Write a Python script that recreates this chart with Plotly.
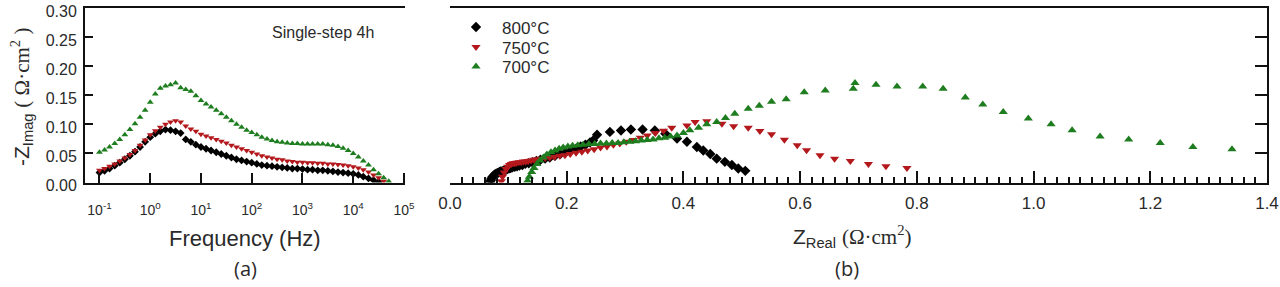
import plotly.graph_objects as go

# ---------------- data ----------------
FREQ = [0.1, 0.126, 0.158, 0.2, 0.251, 0.316, 0.398, 0.501, 0.631, 0.794,
        1, 1.26, 1.58, 2, 2.51, 3.16, 3.98, 5.01, 6.31, 7.94,
        10, 12.6, 15.8, 20, 25.1, 31.6, 39.8, 50.1, 63.1, 79.4,
        100, 126, 158, 200, 251, 316, 398, 501, 631, 794,
        1000, 1260, 1580, 2000, 2510, 3160, 3980, 5010, 6310, 7940,
        10000, 12600, 15800, 20000, 25100, 31600, 39800, 50100]

# Bode: -Z_imag vs frequency
ZI_BODE_800 = [0.017, 0.020, 0.024, 0.029, 0.034, 0.040, 0.046, 0.053, 0.061, 0.070,
               0.078, 0.084, 0.088, 0.091, 0.090, 0.088, 0.085, 0.074, 0.070, 0.065,
               0.061, 0.058, 0.055, 0.052, 0.049, 0.046, 0.043, 0.040, 0.038, 0.036,
               0.034, 0.032, 0.030, 0.029, 0.028, 0.027, 0.026, 0.025, 0.024, 0.024,
               0.023, 0.022, 0.022, 0.021, 0.021, 0.020, 0.019, 0.018, 0.017, 0.016,
               0.015, 0.013, 0.010, 0.007, 0.004, 0.001]
ZI_BODE_750 = [0.021, 0.024, 0.028, 0.032, 0.037, 0.042, 0.048, 0.055, 0.064, 0.073,
               0.082, 0.089, 0.095, 0.100, 0.104, 0.106, 0.104, 0.097, 0.092, 0.088,
               0.083, 0.080, 0.077, 0.074, 0.071, 0.068, 0.064, 0.061, 0.058, 0.055,
               0.052, 0.049, 0.046, 0.044, 0.042, 0.040, 0.039, 0.037, 0.036, 0.035,
               0.035, 0.034, 0.034, 0.033, 0.033, 0.032, 0.032, 0.031, 0.030, 0.029,
               0.027, 0.025, 0.022, 0.018, 0.013, 0.008, 0.002]
ZI_BODE_700 = [0.052, 0.056, 0.061, 0.067, 0.074, 0.082, 0.091, 0.101, 0.112, 0.124,
               0.138, 0.152, 0.162, 0.166, 0.168, 0.171, 0.163, 0.160, 0.157, 0.149,
               0.141, 0.135, 0.130, 0.124, 0.118, 0.112, 0.106, 0.100, 0.095, 0.090,
               0.086, 0.082, 0.078, 0.075, 0.072, 0.070, 0.069, 0.068, 0.067, 0.067,
               0.066, 0.066, 0.066, 0.066, 0.066, 0.065, 0.064, 0.062, 0.059, 0.055,
               0.050, 0.044, 0.037, 0.030, 0.022, 0.015, 0.008, 0.002]

# Nyquist: Z_real, -Z_imag
ZR_NYQ_800 = [0.506, 0.494, 0.483, 0.471, 0.457, 0.446, 0.434, 0.423, 0.406, 0.389,
              0.369, 0.351, 0.330, 0.310, 0.293, 0.274, 0.252, 0.245, 0.240, 0.232,
              0.224, 0.216, 0.207, 0.198, 0.189, 0.180, 0.171, 0.163, 0.155, 0.148,
              0.141, 0.135, 0.129, 0.124, 0.119, 0.115, 0.111, 0.107, 0.104, 0.101,
              0.098, 0.096, 0.093, 0.091, 0.089, 0.087, 0.085, 0.083, 0.081, 0.079,
              0.077, 0.075, 0.073, 0.071, 0.070, 0.069]
ZI_NYQ_800 = [0.020, 0.024, 0.030, 0.0355, 0.041, 0.049, 0.055, 0.061, 0.070, 0.0755,
              0.084, 0.0895, 0.091, 0.091, 0.0895, 0.087, 0.082, 0.072, 0.069, 0.065,
              0.062, 0.058, 0.055, 0.052, 0.049, 0.046, 0.043, 0.041, 0.039, 0.037,
              0.035, 0.033, 0.032, 0.030, 0.029, 0.028, 0.027, 0.026, 0.025, 0.024,
              0.023, 0.022, 0.021, 0.020, 0.019, 0.019, 0.018, 0.017, 0.016, 0.015,
              0.014, 0.012, 0.010, 0.007, 0.004, 0.001]

ZR_NYQ_750 = [0.783, 0.747, 0.717, 0.686, 0.659, 0.634, 0.611, 0.595, 0.573, 0.551,
              0.531, 0.511, 0.486, 0.466, 0.440, 0.420, 0.406, 0.380, 0.366, 0.352,
              0.338, 0.326, 0.314, 0.302, 0.291, 0.280, 0.269, 0.258, 0.247, 0.236,
              0.226, 0.216, 0.206, 0.197, 0.188, 0.179, 0.171, 0.163, 0.156, 0.150,
              0.144, 0.139, 0.134, 0.130, 0.126, 0.122, 0.118, 0.114, 0.111, 0.108,
              0.105, 0.102, 0.099, 0.096, 0.093, 0.090, 0.088]
ZI_NYQ_750 = [0.025, 0.028, 0.0316, 0.037, 0.041, 0.047, 0.0555, 0.064, 0.0737, 0.0828,
              0.0885, 0.094, 0.0965, 0.101, 0.1055, 0.104, 0.098, 0.094, 0.089, 0.085,
              0.081, 0.077, 0.073, 0.070, 0.067, 0.065, 0.062, 0.060, 0.057, 0.055,
              0.053, 0.051, 0.049, 0.047, 0.046, 0.044, 0.043, 0.042, 0.041, 0.040,
              0.039, 0.038, 0.037, 0.036, 0.036, 0.035, 0.035, 0.034, 0.033, 0.033,
              0.032, 0.030, 0.027, 0.023, 0.017, 0.010, 0.002]

ZR_NYQ_700 = [1.340, 1.273, 1.217, 1.163, 1.114, 1.066, 1.030, 0.991, 0.948, 0.913,
              0.883, 0.845, 0.810, 0.766, 0.730, 0.694, 0.691, 0.643, 0.607, 0.576,
              0.551, 0.530, 0.511, 0.488, 0.472, 0.457, 0.440, 0.426, 0.411, 0.400,
              0.389, 0.378, 0.368, 0.358, 0.348, 0.338, 0.328, 0.318, 0.308, 0.298,
              0.288, 0.278, 0.268, 0.258, 0.248, 0.238, 0.228, 0.219, 0.210, 0.202,
              0.194, 0.187, 0.180, 0.173, 0.166, 0.160, 0.154, 0.149, 0.144, 0.140,
              0.136, 0.133]
ZI_NYQ_700 = [0.057, 0.061, 0.068, 0.074, 0.079, 0.090, 0.100, 0.110, 0.121, 0.134,
              0.146, 0.161, 0.165, 0.165, 0.168, 0.171, 0.161, 0.158, 0.155, 0.143,
              0.139, 0.132, 0.127, 0.118, 0.111, 0.104, 0.100, 0.094, 0.090, 0.085,
              0.081, 0.079, 0.077, 0.076, 0.074, 0.073, 0.072, 0.071, 0.070, 0.069,
              0.068, 0.068, 0.067, 0.067, 0.066, 0.066, 0.065, 0.064, 0.063, 0.062,
              0.060, 0.058, 0.055, 0.052, 0.048, 0.043, 0.038, 0.032, 0.025, 0.018,
              0.010, 0.003]

SERIES = ["800°C", "750°C", "700°C"]
COLORS = ["#000000", "#b3191c", "#1e7d1e"]
SYMBOLS = ["diamond", "triangle-down", "triangle-up"]

FREQ_TICKS = [0.1, 1, 10, 100, 1000, 10000, 100000]
FREQ_TICKTEXT = ["10<sup>-1</sup>", "10<sup>0</sup>", "10<sup>1</sup>", "10<sup>2</sup>",
                 "10<sup>3</sup>", "10<sup>4</sup>", "10<sup>5</sup>"]

# ---------------- figure ----------------
W, H = 1280, 287
SANS = "Liberation Sans, Arial, sans-serif"
TXT = "#2a2a2a"

def px(x):
    return x / W

def py(y):
    return 1 - y / H

fig = go.Figure()

bode = [ZI_BODE_800, ZI_BODE_750, ZI_BODE_700]
nyq = [(ZR_NYQ_800, ZI_NYQ_800), (ZR_NYQ_750, ZI_NYQ_750), (ZR_NYQ_700, ZI_NYQ_700)]
legend_ids = ["legend", "legend2", "legend3"]
legend_rows = [27.5, 47.5, 67]

for name, col, sym, zi in zip(SERIES, COLORS, SYMBOLS, bode):
    fig.add_trace(go.Scatter(x=FREQ[:len(zi)], y=zi, mode="markers", name=name,
                             marker=dict(symbol=sym, size=6, color=col, line=dict(width=0)),
                             xaxis="x", yaxis="y", showlegend=False))

for name, col, sym, (zr, zi), lid in zip(SERIES, COLORS, SYMBOLS, nyq, legend_ids):
    fig.add_trace(go.Scatter(x=zr, y=zi, mode="markers", name=name,
                             marker=dict(symbol=sym, size=8, color=col, line=dict(width=0)),
                             xaxis="x2", yaxis="y2", showlegend=True, legend=lid))

ydom = [py(182.5), py(8)]
axis_common = dict(showline=True, linecolor="#111", linewidth=2, ticks="inside",
                   tickcolor="#111", tickwidth=2, showgrid=False, zeroline=False,
                   automargin=False, ticklabeloverflow="allow")

legend_style = dict(xanchor="left", yanchor="middle",
                    font=dict(family=SANS, size=17, color=TXT),
                    bgcolor="rgba(0,0,0,0)", itemwidth=42, borderwidth=0)

fig.update_layout(
    width=W, height=H, margin=dict(l=0, r=0, t=0, b=0, pad=0, autoexpand=False),
    autosize=False,
    paper_bgcolor="white", plot_bgcolor="white",
    xaxis=dict(domain=[px(85), px(405)], type="log", range=[-1.285, 5.02],
               tickvals=FREQ_TICKS, ticktext=FREQ_TICKTEXT, ticklen=10,
               mirror=True, anchor="y", ticklabelstandoff=14,
               tickfont=dict(family=SANS, size=14, color=TXT), **axis_common),
    yaxis=dict(domain=ydom, range=[0, 0.30], dtick=0.05, tickformat=".2f",
               ticklen=8, anchor="x", ticklabelstandoff=3, ticklabelshift=3,
               tickfont=dict(family=SANS, size=16, color=TXT), **axis_common),
    xaxis2=dict(domain=[px(450), px(1267)], range=[0, 1.4], dtick=0.2, tickformat=".1f",
                ticklen=12, mirror=True, anchor="y2", ticklabelstandoff=4,
                tickfont=dict(family=SANS, size=17, color=TXT),
                minor=dict(dtick=0.02, ticklen=6, ticks="inside", tickwidth=1.5,
                           tickcolor="#111"),
                **axis_common),
    yaxis2=dict(domain=ydom, range=[0, 0.30], dtick=0.05, side="right", ticklen=12,
                showticklabels=False, anchor="x2", mirror=False, **axis_common),
    legend=dict(x=px(450), y=py(legend_rows[0]), **legend_style),
    legend2=dict(x=px(450), y=py(legend_rows[1]), **legend_style),
    legend3=dict(x=px(450), y=py(legend_rows[2]), **legend_style),
    showlegend=True,
)

SERIF_SPAN = "<span style='font-family:Liberation Serif'>"
annots = [
    dict(x=px(21), y=py(97),
         text="-Z<sub>Imag</sub> " + SERIF_SPAN + "( Ω·cm<sup>2</sup> )</span>",
         textangle=-90, font=dict(family=SANS, size=21, color=TXT)),
    dict(x=px(245), y=py(238), text="Frequency (Hz)", font=dict(family=SANS, size=22, color=TXT)),
    dict(x=px(245), y=py(268), text="(a)", font=dict(family="Open Sans, sans-serif", size=20, color=TXT)),
    dict(x=px(852), y=py(236),
         text="Z<sub>Real</sub> " + SERIF_SPAN + "(Ω·cm<sup>2</sup>)</span>",
         font=dict(family=SANS, size=21, color=TXT)),
    dict(x=px(847), y=py(268), text="(b)", font=dict(family="Open Sans, sans-serif", size=20, color=TXT)),
    dict(x=px(323), y=py(33), text="Single-step 4h", font=dict(family=SANS, size=16, color=TXT)),
]
for a in annots:
    fig.add_annotation(xref="paper", yref="paper", showarrow=False,
                       xanchor="center", yanchor="middle", **a)

fig.write_html("out.html",
               config={"displayModeBar": False, "responsive": False},
               post_script="document.body.style.margin='0';document.body.style.overflow='hidden';")
